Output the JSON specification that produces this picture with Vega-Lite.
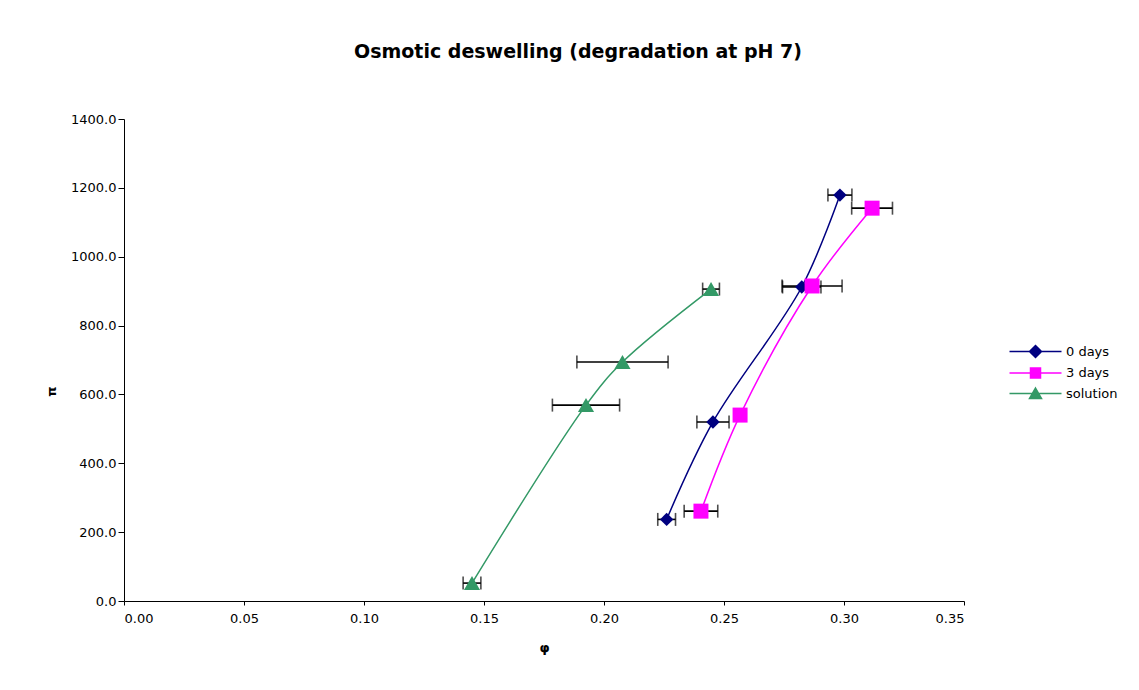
{
  "$schema": "https://vega.github.io/schema/vega-lite/v6.json",
  "autosize": "none",
  "padding": {"left": 124, "top": 119, "right": 175, "bottom": 89},
  "width": 840,
  "height": 482,
  "background": "white",
  "title": {
    "text": "Osmotic deswelling (degradation at pH 7)",
    "font": "DejaVu Sans",
    "fontSize": 19,
    "fontWeight": "bold",
    "color": "black",
    "anchor": "middle",
    "frame": "group",
    "dx": 34,
    "offset": 51
  },
  "config": {
    "view": {"stroke": null},
    "font": "DejaVu Sans",
    "axis": {
      "grid": false,
      "domainColor": "black",
      "tickColor": "black",
      "labelColor": "black",
      "labelFont": "DejaVu Sans",
      "labelFontSize": 13,
      "titleFont": "DejaVu Sans",
      "titleFontWeight": "bold",
      "titleColor": "black",
      "titleFontSize": 13
    }
  },
  "data": {
    "values": [
      {"series": "0 days", "phi": 0.2261, "pi": 237, "err": 0.0037},
      {"series": "0 days", "phi": 0.2454, "pi": 520, "err": 0.0067},
      {"series": "0 days", "phi": 0.2824, "pi": 912, "err": 0.0080},
      {"series": "0 days", "phi": 0.2983, "pi": 1179, "err": 0.0050},
      {"series": "3 days", "phi": 0.2404, "pi": 261, "err": 0.0070},
      {"series": "3 days", "phi": 0.2567, "pi": 540, "err": 0.0020},
      {"series": "3 days", "phi": 0.2867, "pi": 915, "err": 0.0125},
      {"series": "3 days", "phi": 0.3117, "pi": 1141, "err": 0.0085},
      {"series": "solution", "phi": 0.1450, "pi": 52, "err": 0.0037},
      {"series": "solution", "phi": 0.1925, "pi": 569, "err": 0.0140},
      {"series": "solution", "phi": 0.2077, "pi": 694, "err": 0.0190},
      {"series": "solution", "phi": 0.2446, "pi": 906, "err": 0.0035}
    ]
  },
  "encoding": {
    "x": {
      "field": "phi",
      "type": "quantitative",
      "title": "φ",
      "scale": {"domain": [0, 0.35], "nice": false, "zero": false},
      "axis": {"title": "φ", "values": [0, 0.05, 0.1, 0.15, 0.2, 0.25, 0.3, 0.35], "format": ".2f", "tickSize": 4, "labelPadding": 7, "titleY": 40}
    },
    "y": {
      "field": "pi",
      "type": "quantitative",
      "title": "π",
      "scale": {"domain": [0, 1400], "nice": false},
      "axis": {"title": "π", "values": [0, 200, 400, 600, 800, 1000, 1200, 1400], "format": ".1f", "tickSize": 6, "labelPadding": 2, "titleX": -66, "titleY": 272}
    }
  },
  "layer": [
    {
      "mark": {"type": "errorbar", "ticks": {"size": 13, "thickness": 1.6, "color": "black"}, "rule": {"strokeWidth": 1.6, "color": "black"}},
      "encoding": {
        "xError": {"field": "err"}
      }
    },
    {
      "mark": {"type": "line", "interpolate": "catmull-rom", "strokeWidth": 1.5},
      "encoding": {
        "order": {"field": "pi", "type": "quantitative"},
        "color": {
          "field": "series",
          "type": "nominal",
          "scale": {"domain": ["0 days", "3 days", "solution"], "range": ["#000080", "#FF00FF", "#339966"]},
          "legend": {
            "title": null,
            "orient": "none",
            "legendX": 905,
            "legendY": 226,
            "labelFont": "DejaVu Sans",
            "labelFontSize": 13,
            "labelColor": "black",
            "symbolSize": 100,
            "symbolStrokeWidth": 1.5,
            "labelOffset": 24,
            "rowPadding": 3.5,
            "encode": {
              "symbols": {
                "update": {
                  "shape": {"signal": "datum.value === '0 days' ? 'M-5.2,0H5.2M0,-1.2L1.2,0L0,1.2L-1.2,0Z' : datum.value === '3 days' ? 'M-5.2,0H5.2M-1,-1H1V1H-1Z' : 'M-5.2,0H5.2M0,-1.1L1.2,1L-1.2,1Z'"},
                  "fill": {"signal": "scale('color', datum.value)"},
                  "stroke": {"signal": "scale('color', datum.value)"},
                  "strokeWidth": {"value": 1.5}
                }
              }
            }
          }
        }
      }
    },
    {
      "transform": [{"filter": "datum.series === '0 days'"}],
      "mark": {"type": "point", "filled": true, "opacity": 1, "shape": "diamond", "size": 180, "color": "#000080"}
    },
    {
      "transform": [{"filter": "datum.series === '3 days'"}],
      "mark": {"type": "point", "filled": true, "opacity": 1, "shape": "square", "size": 225, "color": "#FF00FF"}
    },
    {
      "transform": [{"filter": "datum.series === 'solution'"}],
      "mark": {"type": "point", "filled": true, "opacity": 1, "shape": "triangle-up", "size": 260, "color": "#339966"}
    }
  ]
}
